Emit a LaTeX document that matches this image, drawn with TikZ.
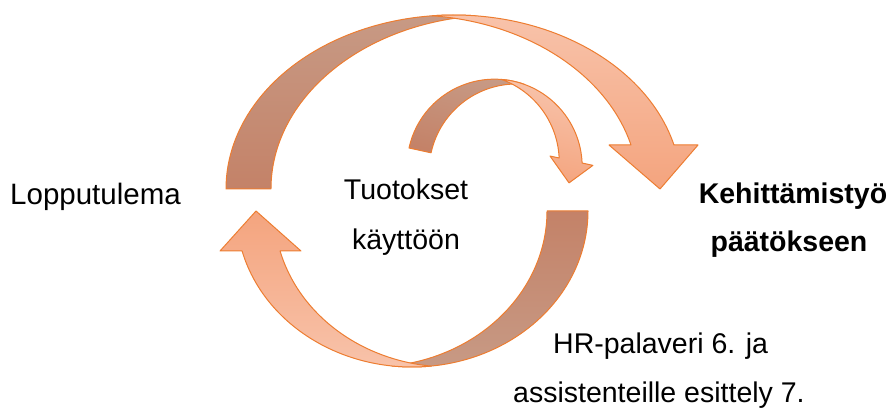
\documentclass[tikz,border=0pt]{standalone}
\usepackage{fontspec}
\setmainfont{Liberation Sans}
\usetikzlibrary{calc}

\definecolor{edgeorange}{RGB}{237,125,49}
\definecolor{backtop}{RGB}{199,154,133}
\definecolor{backbot}{RGB}{196,130,104}
\definecolor{fronttop}{RGB}{248,196,172}
\definecolor{frontbot}{RGB}{244,164,126}

\tikzset{
  backband/.style={draw=edgeorange, line width=1pt, line join=round,
    top color=backtop, bottom color=backbot},
  frontband/.style={draw=edgeorange, line width=1pt, line join=round,
    top color=fronttop, bottom color=frontbot},
  lbl/.style={font=\fontsize{28.5}{34}\selectfont, inner sep=0pt},
  blbl/.style={lbl, font=\fontsize{28.5}{34}\selectfont\bfseries},
}

% Curved band arrow in a local frame: outer foot at (0,0), rising over an
% elliptic arch and coming down with an arrow head on the right.
% #1 x radius, #2 y radius, #3 foot width, #4 shaft width at the head,
% #5 height of the head base, #6 left/#7 right end of the head base, #8 tip x,
% #9 shading angle
\newcommand\bandarrow[9]{%
  \pgfmathsetmacro\bandtA{acos(#3/(2*#1))}%
  \pgfmathsetmacro\bandtB{180-\bandtA}%
  \pgfmathsetmacro\bandtD{acos(#4/(2*#1))}%
  \pgfmathsetmacro\bandtC{180-\bandtD}%
  \pgfmathsetmacro\bandtH{asin(#5/#2)}%
  \path[backband, shading angle=#9] (0,0)
    arc[start angle=180, end angle=\bandtA, x radius=#1, y radius=#2]
    arc[start angle=\bandtB, end angle=180, x radius=#1, y radius=#2] -- cycle;
  \path[frontband, shading angle=#9] ({#1+#1*cos(\bandtC)},{#2*sin(\bandtC)})
    arc[start angle=\bandtC, end angle=\bandtH, x radius=#1, y radius=#2]
    -- (#7,#5) -- (#8,0) -- (#6,#5)
    -- ({#1-#4+#1*cos(\bandtH)},#5)
    arc[start angle=\bandtH, end angle=\bandtD, x radius=#1, y radius=#2] -- cycle;
}

\begin{document}
\begin{tikzpicture}[x=1pt, y=1pt]
  \useasboundingbox (0,0) rectangle (893,409);

  % large arch over the top
  \begin{scope}[shift={(226,220)}]
    \bandarrow{227.7}{174}{45}{43}{44}{383}{472}{434}{0}
  \end{scope}

  % small arch in the middle
  \begin{scope}[shift={(409,261)}, rotate=-12.3]
    \bandarrow{87.6}{87.5}{22.6}{23.5}{22.2}{139.5}{183.4}{163.8}{-12.3}
  \end{scope}

  % lower return arch
  \begin{scope}[shift={(588,198)}, rotate=180]
    \bandarrow{175.9}{156}{41}{38}{40}{287}{368}{332}{180}
  \end{scope}

  % labels
  \node[lbl, anchor=base west, font=\fontsize{29.5}{34}\selectfont] (lop) at (10,204) {Lopputulema};
  \node[lbl, anchor=base] (tuo) at (406,209) {Tuotokset};
  \node[lbl, anchor=base] (kay) at (406,159) {käyttöön};
  \node[blbl, anchor=base] (keh) at (793,205) {Kehittämistyö};
  \node[blbl, anchor=base] (paa) at (789,157) {päätökseen};
  \node[lbl, anchor=base west] (hr) at (553,55) {HR-palaveri 6. ja};
  \node[lbl, anchor=base west] (ass) at (513,6) {assistenteille esittely 7.};
\end{tikzpicture}
\end{document}
